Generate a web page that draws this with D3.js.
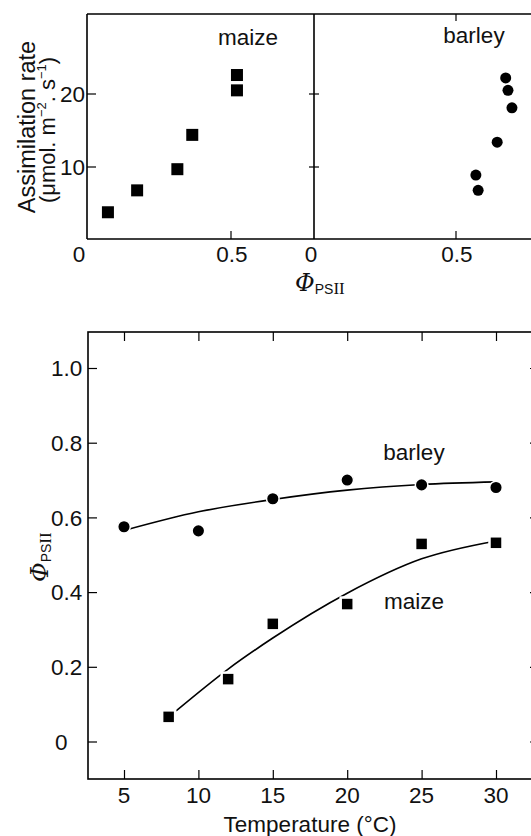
<!DOCTYPE html>
<html>
<head>
<meta charset="utf-8">
<script src="https://cdn.jsdelivr.net/npm/d3@7"></script>
<style>
  body { margin: 0; background: #fff; }
  svg { display: block; font-family: "Liberation Sans", Arial, sans-serif; }
  .frame { fill: none; stroke: #000; stroke-width: 1.6; }
  .tick line { stroke: #000; stroke-width: 1.2; }
  text { fill: #111; }
</style>
</head>
<body>
<svg id="chart" width="531" height="836"></svg>
<script>
// 上段：光合成速度 vs ΦPSII
const maizeTopPhi = [0.087, 0.185, 0.32, 0.37, 0.52, 0.52];
const maizeTopRate = [3.8, 6.8, 9.7, 14.4, 20.5, 22.6];
const barleyTopPhi = [0.57, 0.578, 0.645, 0.675, 0.683, 0.697];
const barleyTopRate = [8.9, 6.8, 13.4, 22.2, 20.5, 18.1];
const topRateTicks = [10, 20];
const topPhiTicks = [0, 0.5];

// 下段：ΦPSII vs 温度
const tempTicks = [5, 10, 15, 20, 25, 30];
const phiTicks = [0, 0.2, 0.4, 0.6, 0.8, 1.0];
const barleyTemp = [5, 10, 15, 20, 25, 30];
const barleyPhi = [0.575, 0.564, 0.65, 0.70, 0.687, 0.68];
const maizeTemp = [8, 12, 15, 20, 25, 30];
const maizePhi = [0.066, 0.167, 0.315, 0.368, 0.529, 0.532];
// 近似曲線
const barleyFitTemp = [5, 10, 15, 20, 25, 30];
const barleyFitPhi = [0.565, 0.615, 0.648, 0.673, 0.688, 0.695];
const maizeFitTemp = [8.5, 12, 15, 20, 25, 30];
const maizeFitPhi = [0.082, 0.194, 0.277, 0.397, 0.489, 0.537];

const svg = d3.select("#chart");
const FS = 22.5;

// ---------- 上段 ----------
const topY = d3.scaleLinear().domain([0, 10]).range([240, 167]);
const xLeft = d3.scaleLinear().domain([0, 0.5]).range([82, 231]);
const xRight = d3.scaleLinear().domain([0, 0.5]).range([314, 456]);
const top0 = 14, bot0 = 239, left0 = 87, mid0 = 314, right0 = 540;

svg.append("path").attr("class", "frame")
  .attr("d", `M${left0},${top0}H${right0}M${left0},${bot0}H${right0}M${left0},${top0}V${bot0}M${mid0},${top0}V${bot0}`);

// y ticks (left, inward) and middle divider ticks
for (let v of topRateTicks) {
  svg.append("line").attr("x1", left0).attr("x2", left0 + 9).attr("y1", topY(v)).attr("y2", topY(v))
    .attr("stroke", "#000").attr("stroke-width", 1.2);
  svg.append("line").attr("x1", mid0 - 5).attr("x2", mid0 + 5).attr("y1", topY(v)).attr("y2", topY(v))
    .attr("stroke", "#000").attr("stroke-width", 1.2);
  svg.append("text").attr("x", left0 - 2).attr("y", topY(v)).attr("dy", "0.36em")
    .attr("text-anchor", "end").attr("font-size", FS).text(v);
}
// x ticks
for (let v of topPhiTicks) {
  for (let sc of [xLeft, xRight]) {
    if (v > 0) {
      svg.append("line").attr("x1", sc(v)).attr("x2", sc(v)).attr("y1", bot0).attr("y2", bot0 - 8)
        .attr("stroke", "#000").attr("stroke-width", 1.2);
    }
    svg.append("text").attr("x", sc(v) - (v === 0 ? 3 : -1)).attr("y", 262).attr("text-anchor", "middle")
      .attr("font-size", FS).text(v);
  }
}
svg.append("line").attr("x1", xRight(0.5)).attr("x2", xRight(0.5)).attr("y1", top0).attr("y2", top0 + 7)
  .attr("stroke", "#000").attr("stroke-width", 1.2);

// 記号
svg.append("g").selectAll("rect").data(maizeTopPhi).enter().append("rect")
  .attr("x", (d) => xLeft(d) - 6).attr("y", (d, i) => topY(maizeTopRate[i]) - 6)
  .attr("width", 12).attr("height", 12).attr("fill", "#000");
svg.append("g").selectAll("circle").data(barleyTopPhi).enter().append("circle")
  .attr("cx", (d) => xRight(d)).attr("cy", (d, i) => topY(barleyTopRate[i]))
  .attr("r", 5.5).attr("fill", "#000");

svg.append("text").attr("x", 248).attr("y", 45).attr("text-anchor", "middle").attr("font-size", FS).text("maize");
svg.append("text").attr("x", 474).attr("y", 43).attr("text-anchor", "middle").attr("font-size", FS).text("barley");

// y軸ラベル
let yl = svg.append("g").attr("transform", "translate(0,127) rotate(-90)");
yl.append("text").attr("x", 0).attr("y", 35).attr("text-anchor", "middle").attr("font-size", 23.5)
  .text("Assimilation rate");
let yl2 = yl.append("text").attr("x", -3).attr("y", 55).attr("text-anchor", "middle").attr("font-size", 22);
yl2.append("tspan").text("(μmol. m");
yl2.append("tspan").attr("font-size", 13).attr("dy", -9).text("−2");
yl2.append("tspan").attr("dy", 9).text(". s");
yl2.append("tspan").attr("font-size", 13).attr("dy", -9).text("−1");
yl2.append("tspan").attr("dy", 9).text(")");

// x軸ラベル Φ_PSII
const phiLabel = (g, x, y) => {
  let t = g.append("text").attr("x", x).attr("y", y).attr("font-size", 24);
  t.append("tspan").attr("font-family", "'DejaVu Serif', serif").attr("font-style", "italic").text("Φ");
  t.append("tspan").attr("font-size", 14).attr("dy", 3).text("PS");
  t.append("tspan").attr("font-size", 17).attr("font-family", "'Liberation Serif', serif").text("II");
  return t;
};
phiLabel(svg, 295, 291);

// ---------- 下段 ----------
const bx = d3.scaleLinear().domain([5, 30]).range([124, 496]);
const by = d3.scaleLinear().domain([0, 1]).range([741.5, 368]);
const bTop = 332, bBot = 779, bLeft = 88, bRight = 538;

svg.append("rect").attr("class", "frame").attr("x", bLeft).attr("y", bTop)
  .attr("width", bRight - bLeft).attr("height", bBot - bTop);

svg.append("g").attr("transform", `translate(0,${bBot})`)
  .call(d3.axisTop(bx).tickValues(tempTicks).tickSize(9).tickFormat(""))
  .call((g) => g.select(".domain").remove());
svg.append("g").attr("transform", `translate(0,${bTop})`)
  .call(d3.axisBottom(bx).tickValues(tempTicks).tickSize(9).tickFormat(""))
  .call((g) => g.select(".domain").remove());
svg.append("g").attr("transform", `translate(${bLeft},0)`)
  .call(d3.axisRight(by).tickValues(phiTicks).tickSize(9).tickFormat(""))
  .call((g) => g.select(".domain").remove());
svg.append("g").attr("transform", `translate(${bRight},0)`)
  .call(d3.axisLeft(by).tickValues(phiTicks).tickSize(8).tickFormat(""))
  .call((g) => g.select(".domain").remove());

for (let v of tempTicks) {
  svg.append("text").attr("x", bx(v)).attr("y", 803).attr("text-anchor", "middle").attr("font-size", FS).text(v);
}
for (let v of phiTicks) {
  svg.append("text").attr("x", v === 0 ? 55 : 51).attr("y", by(v)).attr("dy", "0.36em")
    .attr("font-size", FS).text(v === 0 ? "0" : d3.format(".1f")(v));
}

// 近似曲線
const line = d3.line().x((d) => bx(d[0])).y((d) => by(d[1])).curve(d3.curveMonotoneX);
svg.append("path").attr("d", line(d3.zip(barleyFitTemp, barleyFitPhi)))
  .attr("fill", "none").attr("stroke", "#000").attr("stroke-width", 1.6);
svg.append("path").attr("d", line(d3.zip(maizeFitTemp, maizeFitPhi)))
  .attr("fill", "none").attr("stroke", "#000").attr("stroke-width", 1.6);

svg.append("g").selectAll("circle").data(barleyTemp).enter().append("circle")
  .attr("cx", (d) => bx(d)).attr("cy", (d, i) => by(barleyPhi[i]))
  .attr("r", 6.3).attr("fill", "#000").attr("stroke", "#fff").attr("stroke-width", 1.5);
svg.append("g").selectAll("rect").data(maizeTemp).enter().append("rect")
  .attr("x", (d) => bx(d) - 6.5).attr("y", (d, i) => by(maizePhi[i]) - 6.5)
  .attr("width", 13).attr("height", 13).attr("fill", "#000").attr("stroke", "#fff").attr("stroke-width", 2.5);

svg.append("text").attr("x", 414).attr("y", 460).attr("text-anchor", "middle").attr("font-size", FS).text("barley");
svg.append("text").attr("x", 414).attr("y", 609).attr("text-anchor", "middle").attr("font-size", FS).text("maize");

svg.append("text").attr("x", 310).attr("y", 832).attr("text-anchor", "middle").attr("font-size", FS)
  .text("Temperature (°C)");

let by_l = svg.append("g").attr("transform", "translate(48,582) rotate(-90)");
phiLabel(by_l, 0, 0);
</script>
</body>
</html>
